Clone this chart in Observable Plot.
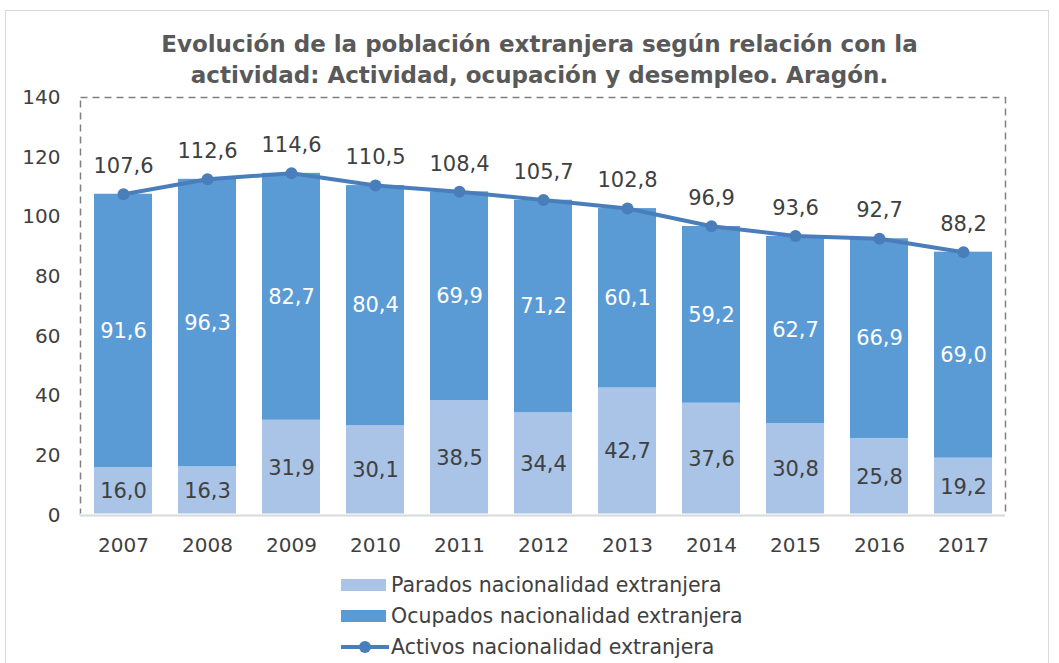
<!DOCTYPE html>
<html>
<head>
<meta charset="utf-8">
<script src="https://cdn.jsdelivr.net/npm/d3@7"></script>
<script src="https://cdn.jsdelivr.net/npm/@observablehq/plot@0.6"></script>
<style>
  body { margin: 0; background: #fff; font-family: "DejaVu Sans", Verdana, sans-serif; }
  #wrap { position: relative; width: 1059px; height: 663px; overflow: hidden; }
  #border { position: absolute; left: 5px; top: 10px; width: 1044px; height: 660px; border: 1px solid #d9d9d9; box-sizing: border-box; }
  #title { position: absolute; left: 10px; width: 1059px; top: 29px; text-align: center; font-weight: bold; font-size: 23px; line-height: 31px; color: #595959; }
  #chart { position: absolute; left: 0; top: 0; }
  #legend { position: absolute; left: 341px; top: 569px; font-size: 20.5px; color: #404040; }
  .item { height: 31px; display: flex; align-items: center; }
  .sw { width: 45px; height: 12px; margin-right: 5px; }
</style>
</head>
<body>
<div id="wrap">
  <div id="border"></div>
  <div id="chart"></div>
  <div id="title">Evolución de la población extranjera según relación con la<br>actividad: Actividad, ocupación y desempleo. Aragón.</div>
  <div id="legend"></div>
</div>
<script>
const years = ["2007","2008","2009","2010","2011","2012","2013","2014","2015","2016","2017"];
const parados = [16.0,16.3,31.9,30.1,38.5,34.4,42.7,37.6,30.8,25.8,19.2];
const ocupados = [91.6,96.3,82.7,80.4,69.9,71.2,60.1,59.2,62.7,66.9,69.0];
const activos = [107.6,112.6,114.6,110.5,108.4,105.7,102.8,96.9,93.6,92.7,88.2];
const yTicks = [0,20,40,60,80,100,120,140];
const seriesNames = ["Parados nacionalidad extranjera","Ocupados nacionalidad extranjera","Activos nacionalidad extranjera"];

const cParados = "#A9C4E7";
const cOcupados = "#5B9BD5";
const cActivos = "#4A7EBB";
const txt = "#404040";

const rows = years.map((y, i) => ({year: y, p: parados[i], o: ocupados[i], a: activos[i]}));
const fmt = v => v.toFixed(1).replace(".", ",");

const chart = Plot.plot({
  width: 1059,
  height: 560,
  marginTop: 97,
  marginBottom: 45,
  marginLeft: 80,
  marginRight: 54,
  style: {fontFamily: "'DejaVu Sans', Verdana, sans-serif", fontSize: "20px", color: txt, background: "transparent"},
  x: {domain: years, paddingInner: 0.31, paddingOuter: 0.155, label: null, tickSize: 0, tickPadding: 22},
  y: {domain: [0, 140], ticks: yTicks, label: null, tickSize: 0, tickPadding: 20, tickFormat: d => d},
  marks: [
    Plot.frame({stroke: "#808080", strokeDasharray: "7,5", strokeWidth: 1.5}),
    Plot.barY(rows, {x: "year", y1: 0, y2: "p", fill: cParados}),
    Plot.barY(rows, {x: "year", y1: "p", y2: d => d.p + d.o, fill: cOcupados}),
    Plot.ruleY([0], {stroke: "white", strokeWidth: 4}),
    Plot.ruleY([0], {stroke: "#d9d9d9", strokeWidth: 2}),
    Plot.line(rows, {x: "year", y: "a", stroke: cActivos, strokeWidth: 4}),
    Plot.dot(rows, {x: "year", y: "a", r: 6, fill: cActivos}),
    Plot.text(rows, {x: "year", y: "a", text: d => fmt(d.a), dy: -28, fill: txt, fontSize: 21}),
    Plot.text(rows, {x: "year", y: d => d.p + d.o / 2, text: d => fmt(d.o), fill: "white", fontSize: 21}),
    Plot.text(rows, {x: "year", y: d => d.p / 2, text: d => fmt(d.p), fill: txt, fontSize: 21})
  ]
});
document.getElementById("chart").appendChild(chart);

const legend = document.getElementById("legend");
const swatches = [
  `<div class="sw" style="background:${cParados}"></div>`,
  `<div class="sw" style="background:${cOcupados}"></div>`,
  `<svg width="50" height="16" style="margin-right:0"><line x1="0" y1="8" x2="48" y2="8" stroke="${cActivos}" stroke-width="4"/><circle cx="24" cy="8" r="6" fill="${cActivos}"/></svg>`
];
seriesNames.forEach((name, i) => {
  const d = document.createElement("div");
  d.className = "item";
  d.innerHTML = swatches[i] + `<span>${name}</span>`;
  legend.appendChild(d);
});
</script>
</body>
</html>
